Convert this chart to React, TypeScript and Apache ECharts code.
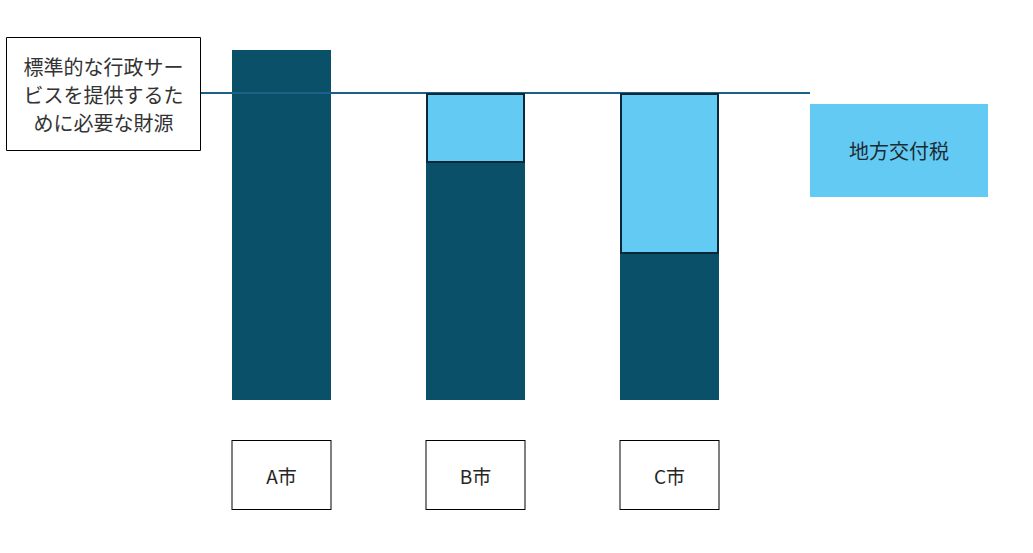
import React, { useEffect, useRef } from "react";
import * as echarts from "echarts";

const categories = ["A市", "B市", "C市"];
const ownRevenue = [350, 237, 146];
const localAllocationTax = [0, 70, 161];
const standardNeed = 307;
const needLabelLines = ["標準的な行政サー", "ビスを提供するた", "めに必要な財源"];
const grantLabel = "地方交付税";

const DARK = "#0B5069";
const LIGHT = "#63CBF3";
const LINE = "#1B6088";
const FONT = "'Noto Sans CJK JP', 'Noto Sans', sans-serif";

export default function App() {
  const ref = useRef<HTMLDivElement>(null);
  useEffect(() => {
    if (!ref.current) return;
    const chart = echarts.init(ref.current, undefined, { renderer: "svg" });
    chart.setOption({
      animation: false,
      backgroundColor: "#ffffff",
      textStyle: { fontFamily: FONT },
      grid: { left: 184.5, top: 50, width: 582, height: 350, outerBoundsMode: "none" },
      xAxis: {
        type: "category",
        data: categories,
        axisLine: { show: false },
        axisTick: { show: false },
        splitLine: { show: false },
        axisLabel: {
          margin: 41,
          color: "#262626",
          fontSize: 19,
          fontFamily: FONT,
          width: 98,
          height: 68,
          lineHeight: 68,
          align: "center",
          borderColor: "#000",
          borderWidth: 1,
          backgroundColor: "#fff",
        },
      },
      yAxis: {
        type: "value",
        min: 0,
        max: 350,
        show: false,
        splitLine: { show: false },
      },
      series: [
        {
          name: "自主財源",
          type: "bar",
          stack: "total",
          barWidth: 99,
          data: ownRevenue,
          itemStyle: { color: DARK },
          z: 2,
        },
        {
          name: grantLabel,
          type: "bar",
          stack: "total",
          barWidth: 99,
          data: localAllocationTax.map((v) => (v > 0 ? v : "-")),
          itemStyle: { color: LIGHT, borderColor: "#0B2838", borderWidth: 2 },
          z: 4,
        },
      ],
    });
    const yNeed = chart.convertToPixel({ yAxisIndex: 0 }, standardNeed) as number;
    chart.setOption({
      graphic: [
        {
          type: "line",
          z: 3,
          shape: { x1: 200, y1: yNeed, x2: 810, y2: yNeed },
          style: { stroke: LINE, lineWidth: 2 },
        },
        {
          type: "rect",
          z: 5,
          shape: { x: 6.5, y: 37.5, width: 194, height: 113 },
          style: { fill: "#fff", stroke: "#000", lineWidth: 1 },
        },
        {
          type: "text",
          z: 6,
          x: 103.5,
          y: 94,
          style: {
            text: needLabelLines.join("\n"),
            fill: "#333",
            fontSize: 20,
            lineHeight: 28,
            fontFamily: FONT,
            align: "center",
            verticalAlign: "middle",
          },
        },
        {
          type: "rect",
          z: 5,
          shape: { x: 810, y: 104, width: 178, height: 93 },
          style: { fill: LIGHT },
        },
        {
          type: "text",
          z: 6,
          x: 899,
          y: 150,
          style: {
            text: grantLabel,
            fill: "#1C2A33",
            fontSize: 20,
            fontFamily: FONT,
            align: "center",
            verticalAlign: "middle",
          },
        },
      ],
    });
    return () => chart.dispose();
  }, []);
  return (
    <div
      ref={ref}
      style={{ position: "absolute", left: 0, top: 0, width: 1033, height: 553 }}
    />
  );
}
